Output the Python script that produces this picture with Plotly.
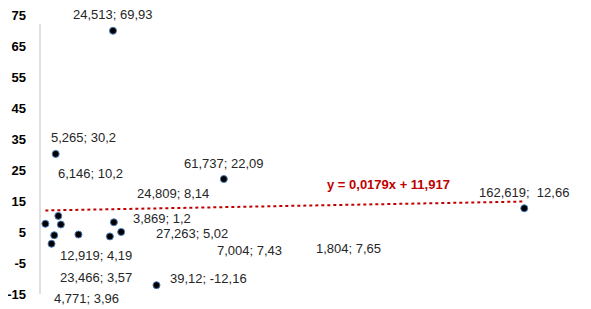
import plotly.graph_objects as go

# data
x_vals = [24.513, 5.265, 6.146, 61.737, 24.809, 162.619, 3.869, 27.263, 12.919, 7.004, 1.804, 23.466, 39.12, 4.771]
y_vals = [69.93, 30.2, 10.2, 22.09, 8.14, 12.66, 1.2, 5.02, 4.19, 7.43, 7.65, 3.57, -12.16, 3.96]
labels = ["24,513; 69,93", "5,265; 30,2", "6,146; 10,2", "61,737; 22,09", "24,809; 8,14",
          "162,619;  12,66", "3,869; 1,2", "27,263; 5,02", "12,919; 4,19", "7,004; 7,43",
          "1,804; 7,65", "23,466; 3,57", "39,12; -12,16", "4,771; 3,96"]
y_ticks = [75, 65, 55, 45, 35, 25, 15, 5, -5, -15]
trend_slope = 0.0179
trend_intercept = 11.917
trend_text = "y = 0,0179x + 11,917"

# label pixel offsets (style)
offsets = [(0, -16), (28, -16), (32, -42), (0, -16), (59, -29), (0, -16), (110, -25),
           (71, 2), (18, 21), (189, 26), (303, 25), (-14, 41), (52, -7), (32, 63)]

FONT = "Liberation Sans, Arial"

fig = go.Figure()
xmin, xmax = min(x_vals), max(x_vals)
fig.add_trace(go.Scatter(x=[xmin, xmax], y=[trend_slope * xmin + trend_intercept, trend_slope * xmax + trend_intercept],
                         mode="lines", line=dict(color="#c00000", width=2, dash="dot"), hoverinfo="skip"))
fig.add_trace(go.Scatter(x=x_vals, y=y_vals, mode="markers",
                         marker=dict(color="black", size=7, line=dict(color="#4a7ebb", width=1))))

for xv, yv, lab, (dx, dy) in zip(x_vals, y_vals, labels, offsets):
    fig.add_annotation(x=xv, y=yv, text=lab, showarrow=True, arrowcolor="rgba(0,0,0,0)",
                       ax=dx, ay=dy, font=dict(family=FONT, size=13, color="#262626"))

xeq = 117
fig.add_annotation(x=xeq, y=trend_slope * xeq + trend_intercept, text="<b>" + trend_text + "</b>",
                   showarrow=True, arrowcolor="rgba(0,0,0,0)", ax=0, ay=-20,
                   font=dict(family=FONT, size=13, color="#c00000"))

# vertical axis line
fig.add_shape(type="line", xref="paper", yref="paper", x0=0, x1=0, y0=0, y1=0.968,
              line=dict(color="#bfbfbf", width=1))

fig.update_layout(
    width=583, height=301, showlegend=False,
    margin=dict(l=32, r=15, t=7, b=15, autoexpand=False),
    paper_bgcolor="white", plot_bgcolor="white",
    xaxis=dict(range=[0, 180], visible=False, automargin=False),
    yaxis=dict(range=[-15, 75], tickvals=y_ticks, ticktext=[f"<b>{t}</b>" for t in y_ticks],
               showgrid=False, zeroline=False, showline=False, automargin=False,
               ticks="", ticklabelstandoff=13, ticklabeloverflow="allow",
               tickfont=dict(family=FONT, size=13, color="black")),
)
fig.write_html("out.html")
